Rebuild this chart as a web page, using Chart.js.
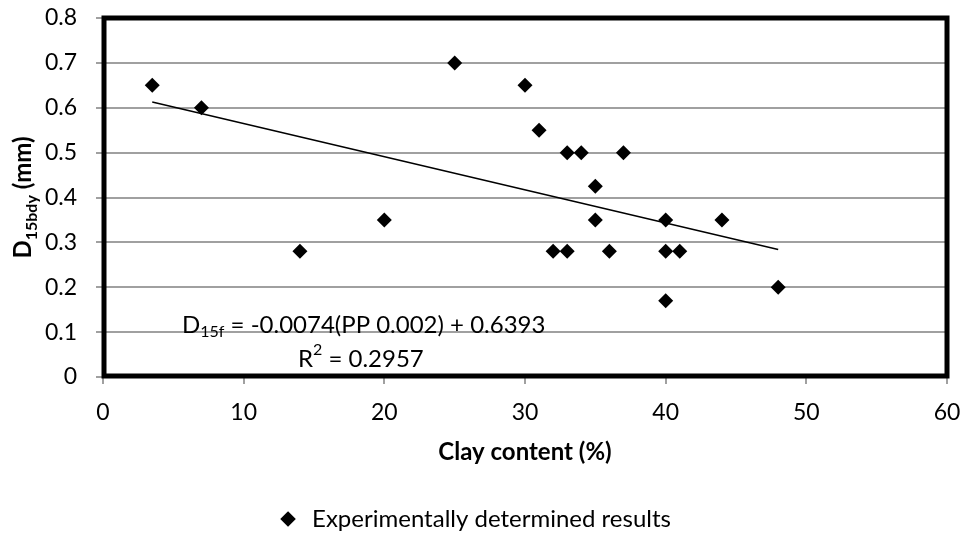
<!DOCTYPE html>
<html>
<head>
<meta charset="utf-8">
<script src="https://cdn.jsdelivr.net/npm/chart.js@4.4.1/dist/chart.umd.min.js"></script>
<style>
  html, body { margin: 0; padding: 0; background: #fff; }
  #wrap { width: 961px; height: 541px; }
</style>
</head>
<body>
<div id="wrap"><canvas id="chart"></canvas></div>
<script>
const FONT = "Lato, 'Open Sans', sans-serif";

// measured points: clay content (%) vs D15bdy (mm)
const clayContent = [3.5, 7, 14, 20, 25, 30, 31, 32, 33, 33, 34, 35, 35, 36, 37, 40, 40, 40, 41, 44, 48];
const d15bdy = [0.65, 0.6, 0.28, 0.35, 0.7, 0.65, 0.55, 0.28, 0.5, 0.28, 0.5, 0.425, 0.35, 0.28, 0.5, 0.35, 0.28, 0.17, 0.28, 0.35, 0.2];

// linear trendline ends
const trendX = [3.5, 48];
const trendY = [0.613, 0.284];

const seriesLabel = "Experimentally determined results";
const xTitle = "Clay content (%)";
const eqText = " = -0.0074(PP 0.002) + 0.6393";
const r2Text = " = 0.2957";

const grey = "#a0a0a0";

function drawSub(ctx, x, y, parts) {
  // parts: [text, sizePx, bold, dy]
  let cx = x;
  parts.forEach(([t, size, bold, dy]) => {
    ctx.font = `${bold ? "bold " : ""}${size}px ${FONT}`;
    ctx.fillText(t, cx, y + dy);
    cx += ctx.measureText(t).width;
  });
}

function partsWidth(ctx, parts) {
  let w = 0;
  parts.forEach(([t, size, bold]) => {
    ctx.font = `${bold ? "bold " : ""}${size}px ${FONT}`;
    w += ctx.measureText(t).width;
  });
  return w;
}

function noPad(s) {
  s.paddingTop = 0;
  s.paddingBottom = 0;
  s.paddingLeft = 0;
  s.paddingRight = 0;
}

const extras = {
  id: "extras",
  beforeDatasetsDraw(chart) {
    const { ctx, chartArea: a } = chart;
    ctx.save();
    ctx.strokeStyle = "#000";
    ctx.lineWidth = 5;
    ctx.strokeRect(a.left + 1, a.top, a.right - a.left - 1, a.bottom - a.top - 1);
    ctx.restore();
  },
  afterDraw(chart) {
    const { ctx, chartArea: a } = chart;
    ctx.save();
    ctx.fillStyle = "#000";
    ctx.textBaseline = "alphabetic";

    // y axis title with subscript
    const yParts = [["D", 24, true, 0], ["15bdy", 16, true, 6], [" (mm)", 24, true, 0]];
    const w = partsWidth(ctx, yParts);
    ctx.translate(31, (a.top + a.bottom) / 2);
    ctx.rotate(-Math.PI / 2);
    drawSub(ctx, -w / 2, 0, yParts);
    ctx.restore();

    // trendline equation
    ctx.save();
    ctx.fillStyle = "#000";
    drawSub(ctx, 182, 325, [["D", 24, false, 0], ["15f", 16, false, 7], [eqText, 24, false, 0]]);
    drawSub(ctx, 298, 359, [["R", 24, false, 0], ["2", 16, false, -9], [r2Text, 24, false, 0]]);
    ctx.restore();
  }
};

new Chart(document.getElementById("chart"), {
  type: "scatter",
  data: {
    datasets: [
      {
        label: seriesLabel,
        data: clayContent.map((x, i) => ({ x, y: d15bdy[i] })),
        pointStyle: "rectRot",
        pointRadius: 7.5,
        pointHoverRadius: 7.5,
        backgroundColor: "#000",
        borderColor: "#000",
        borderWidth: 0,
      },
      {
        label: "trend",
        type: "line",
        data: trendX.map((x, i) => ({ x, y: trendY[i] })),
        borderColor: "#000",
        borderWidth: 1.5,
        pointRadius: 0,
        fill: false,
      },
    ],
  },
  options: {
    responsive: true,
    maintainAspectRatio: false,
    animation: false,
    layout: { padding: { top: 18, right: 14, left: 0, bottom: 0 } },
    plugins: {
      legend: {
        position: "bottom",
        labels: {
          filter: (item) => item.datasetIndex === 0,
          usePointStyle: true,
          boxHeight: 11,
          color: "#000",
          padding: 10,
          font: { family: FONT, size: 24 },
        },
      },
      tooltip: { enabled: false },
    },
    scales: {
      x: {
        type: "linear",
        min: 0,
        max: 60,
        ticks: { stepSize: 10, color: "#000", padding: 15, font: { family: FONT, size: 23 } },
        grid: { drawOnChartArea: false, color: grey, lineWidth: 2, tickLength: 7 },
        border: { color: grey, width: 2 },
        title: {
          display: true,
          text: xTitle,
          color: "#000",
          font: { family: FONT, size: 24, weight: "bold" },
          padding: { top: 0, bottom: 30 },
        },
        afterFit: (s) => { s.height = 120; noPad(s); },
      },
      y: {
        min: 0,
        max: 0.8,
        ticks: { stepSize: 0.1, color: "#000", padding: 19, font: { family: FONT, size: 23 } },
        grid: { color: grey, lineWidth: 2, tickLength: 7 },
        border: { color: grey, width: 2 },
        afterFit: (s) => { s.width = 103; noPad(s); },
      },
    },
  },
  plugins: [extras],
});
</script>
</body>
</html>
